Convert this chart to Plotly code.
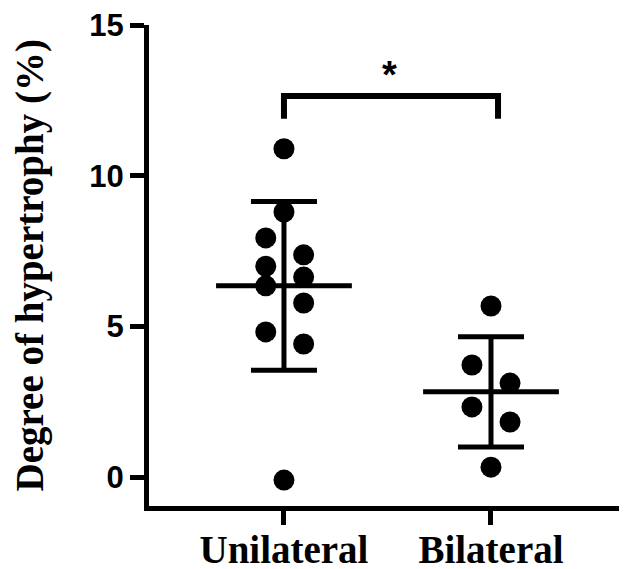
import plotly.graph_objects as go

# ---- data ----
categories = ["Unilateral", "Bilateral"]
unilateral_values = [10.9, 8.8, 7.94, 7.38, 7.0, 6.64, 6.35, 5.78, 4.82, 4.42, -0.1]
unilateral_jitter = [0, 0, -0.088, 0.095, -0.088, 0.095, -0.088, 0.095, -0.088, 0.095, 0]
bilateral_values = [5.68, 3.72, 3.12, 2.33, 1.83, 0.33]
bilateral_jitter = [0, -0.092, 0.092, -0.092, 0.092, 0]
group_means = [6.35, 2.83]
group_sd = [2.8, 1.83]
y_ticks = [0, 5, 10, 15]
significance = "*"

cat_pos = [0, 1]

fig = go.Figure()

# individual points
fig.add_trace(go.Scatter(
    x=[cat_pos[0] + j for j in unilateral_jitter], y=unilateral_values,
    mode="markers", marker=dict(color="black", size=21), showlegend=False))
fig.add_trace(go.Scatter(
    x=[cat_pos[1] + j for j in bilateral_jitter], y=bilateral_values,
    mode="markers", marker=dict(color="black", size=21), showlegend=False))

# mean line + SD whiskers
fig.add_trace(go.Scatter(
    x=cat_pos, y=group_means, mode="markers",
    marker=dict(symbol="line-ew", size=97, color="black",
                line=dict(color="black", width=5)),
    error_y=dict(type="data", array=group_sd, visible=True,
                 color="black", thickness=5, width=33),
    showlegend=False))

# significance bracket
br_x0, br_x1 = 0, 1.034
br_low, br_high = 11.9, 12.65
fig.add_shape(type="path",
              path=f"M {br_x0},{br_low} L {br_x0},{br_high} L {br_x1},{br_high} L {br_x1},{br_low}",
              xref="x", yref="y", line=dict(color="black", width=6))
fig.add_annotation(x=0.512, y=13.35, xref="x", yref="y", text=f"<b>{significance}</b>",
                   showarrow=False, yanchor="middle",
                   font=dict(family="Liberation Sans", size=38, color="black"))

# y-axis title
fig.add_annotation(x=-0.249, y=0.5, xref="paper", yref="paper",
                   text="<b>Degree of hypertrophy (%)</b>",
                   showarrow=False, textangle=-90, xanchor="center", yanchor="middle",
                   font=dict(family="Liberation Serif", size=39, color="black"))

fig.update_layout(
    width=619, height=561,
    margin=dict(l=141, r=0, t=17, b=63, pad=0),
    paper_bgcolor="white", plot_bgcolor="white",
    xaxis=dict(
        range=[-0.652, 1.657], tickvals=cat_pos,
        ticktext=[f"<b>{c}</b>" for c in categories],
        showgrid=False, zeroline=False, automargin=False,
        showline=True, linecolor="black", linewidth=5,
        ticks="outside", ticklen=14, tickwidth=5, tickcolor="black",
        ticklabelstandoff=-9,
        tickfont=dict(family="Liberation Serif", size=39, color="black"),
    ),
    yaxis=dict(
        range=[-0.96, 15.01], tickvals=y_ticks,
        ticktext=[f"<b>{t}</b>" for t in y_ticks],
        showgrid=False, zeroline=False, automargin=False,
        showline=True, linecolor="black", linewidth=5,
        ticks="outside", ticklen=14, tickwidth=5, tickcolor="black",
        tickfont=dict(family="Liberation Sans", size=31, color="black"),
    ),
)

fig.write_html("out.html")
